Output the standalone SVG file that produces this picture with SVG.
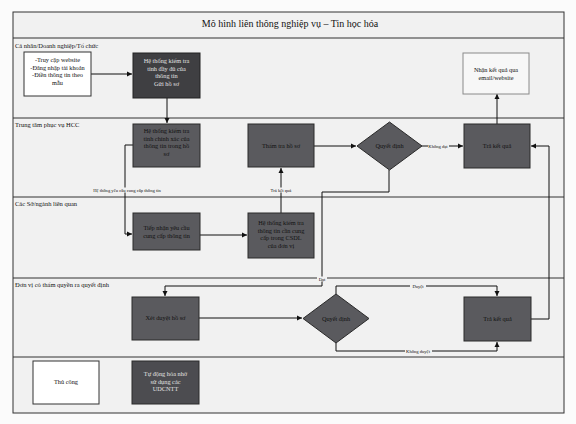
<svg xmlns="http://www.w3.org/2000/svg" width="576" height="424" viewBox="0 0 576 424">
<defs>
<marker id="ah" markerWidth="6" markerHeight="6" refX="5" refY="3" orient="auto" markerUnits="userSpaceOnUse">
<path d="M0,0.5 L5,3 L0,5.5 Z" fill="#111"/>
</marker>
<style>
.lane{fill:#f1f1f1;stroke:#333;stroke-width:1}
.lt{font-family:"Liberation Serif",serif;font-size:6.5px;fill:#111}
.title{font-family:"Liberation Serif",serif;font-size:10px;fill:#111}
.bx{font-family:"Liberation Serif",serif;font-size:6.3px;fill:#111;text-anchor:middle}
.bxl{font-family:"Liberation Serif",serif;font-size:6.3px;fill:#e2e2e2;text-anchor:middle}
.dark{fill:#5a5a5e;stroke:#2a2a2a;stroke-width:1}
.darker{fill:#3f3f42;stroke:#222;stroke-width:1}
.white{fill:#fff;stroke:#333;stroke-width:1}
.light{fill:#f7f7f7;stroke:#8a8a8a;stroke-width:1}
.cn{fill:none;stroke:#111;stroke-width:1}
.lbl{font-family:"Liberation Serif",serif;font-size:4.6px;fill:#111;text-anchor:middle}
.lblbg{fill:#f1f1f1}
</style>
</defs>
<rect x="0" y="0" width="576" height="424" fill="#fbfbfb"/>
<g id="frame">
<rect class="lane" x="13" y="12" width="551" height="401"/>
<line x1="13" y1="38" x2="564" y2="38" stroke="#333" stroke-width="1.2"/>
<line x1="13" y1="118" x2="564" y2="118" stroke="#333"/>
<line x1="13" y1="197" x2="564" y2="197" stroke="#333"/>
<line x1="13" y1="278" x2="564" y2="278" stroke="#333"/>
<line x1="13" y1="357" x2="564" y2="357" stroke="#333"/>
<text class="title" x="290" y="27" text-anchor="middle">Mô hình liên thông nghiệp vụ – Tin học hóa</text>
<text class="lt" x="15" y="48">Cá nhân/Doanh nghiệp/Tổ chức</text>
<text class="lt" x="15" y="127">Trung tâm phục vụ HCC</text>
<text class="lt" x="15" y="206">Các Sở/ngành liên quan</text>
<text class="lt" x="15" y="287">Đơn vị có thẩm quyền ra quyết định</text>
</g>
<g id="connectors">
<path class="cn" d="M91,74 H132" marker-end="url(#ah)"/>
<path class="cn" d="M167,98 V123" marker-end="url(#ah)"/>
<path class="cn" d="M133,145 H125 V234 H132" marker-end="url(#ah)"/>
<path class="cn" d="M200,235 H247" marker-end="url(#ah)"/>
<path class="cn" d="M281,213 V168" marker-end="url(#ah)"/>
<path class="cn" d="M314,146 H356" marker-end="url(#ah)"/>
<path class="cn" d="M422,146 H463" marker-end="url(#ah)"/>
<path class="cn" d="M497,124 V94" marker-end="url(#ah)"/>
<path class="cn" d="M389,170 V192 H322 V286 H165 V296" marker-end="url(#ah)"/>
<path class="cn" d="M199,318 H302" marker-end="url(#ah)"/>
<path class="cn" d="M336,294 V286 H497 V296" marker-end="url(#ah)"/>
<path class="cn" d="M336,343 V351 H497 V342" marker-end="url(#ah)"/>
<path class="cn" d="M531,319 H549 V146 H531" marker-end="url(#ah)"/>
<rect class="lblbg" x="82" y="187.5" width="90" height="5"/>
<text class="lbl" x="127" y="191.5">Hệ thống yêu cầu cung cấp thông tin</text>
<rect class="lblbg" x="268" y="187.5" width="26" height="5"/>
<text class="lbl" x="281" y="191.5">Trả kết quả</text>
<rect class="lblbg" x="428" y="143.5" width="21" height="5"/>
<text class="lbl" x="438" y="147.5">Không đạt</text>
<rect class="lblbg" x="317" y="276.5" width="10" height="5"/>
<text class="lbl" x="322" y="280.5">Đạt</text>
<rect class="lblbg" x="410" y="283.5" width="16" height="5"/>
<text class="lbl" x="418" y="287.5">Duyệt</text>
<rect class="lblbg" x="405" y="348.5" width="27" height="5"/>
<text class="lbl" x="418" y="352.5">Không duyệt</text>
</g>
<g id="n-input">
<rect class="white" x="24" y="52" width="67" height="44"/>
<text class="bx" x="57.5" y="62">-Truy cập website</text>
<text class="bx" x="57.5" y="69.5">-Đăng nhập tài khoản</text>
<text class="bx" x="57.5" y="77">-Điền thông tin theo</text>
<text class="bx" x="57.5" y="84.5">mẫu</text>
</g>
<g id="n-check1">
<rect class="darker" x="133" y="53" width="67" height="45"/>
<text class="bxl" x="166.5" y="63">Hệ thống kiểm tra</text>
<text class="bxl" x="166.5" y="70.5">tính đầy đủ của</text>
<text class="bxl" x="166.5" y="78">thông tin</text>
<text class="bxl" x="166.5" y="85.5">Gửi hồ sơ</text>
</g>
<g id="n-receive">
<rect class="light" x="463" y="53" width="66" height="41"/>
<text class="bx" x="496" y="72">Nhận kết quả qua</text>
<text class="bx" x="496" y="80">email/website</text>
</g>
<g id="n-check2">
<rect class="dark" x="133" y="124" width="67" height="43"/>
<text class="bx" x="166.5" y="133">Hệ thống kiểm tra</text>
<text class="bx" x="166.5" y="140.5">tính chính xác của</text>
<text class="bx" x="166.5" y="148">thông tin trong hồ</text>
<text class="bx" x="166.5" y="155.5">sơ</text>
</g>
<g id="n-review">
<rect class="dark" x="248" y="124" width="66" height="43"/>
<text class="bx" x="281" y="148">Thẩm tra hồ sơ</text>
</g>
<g id="n-decide1">
<polygon class="dark" points="389.5,122 422,146 389.5,170 357,146"/>
<text class="bx" x="389.5" y="148">Quyết định</text>
</g>
<g id="n-result1">
<rect class="dark" x="464" y="124" width="66" height="44"/>
<text class="bx" x="497" y="148">Trả kết quả</text>
</g>
<g id="n-request">
<rect class="dark" x="133" y="213" width="67" height="37"/>
<text class="bx" x="166.5" y="230">Tiếp nhận yêu cầu</text>
<text class="bx" x="166.5" y="237.5">cung cấp thông tin</text>
</g>
<g id="n-check3">
<rect class="dark" x="248" y="213" width="66" height="45"/>
<text class="bx" x="281" y="225">Hệ thống kiểm tra</text>
<text class="bx" x="281" y="232.5">thông tin cần cung</text>
<text class="bx" x="281" y="240">cấp trong CSDL</text>
<text class="bx" x="281" y="247.5">của đơn vị</text>
</g>
<g id="n-approve">
<rect class="dark" x="132" y="297" width="67" height="43"/>
<text class="bx" x="165.5" y="320">Xét duyệt hồ sơ</text>
</g>
<g id="n-decide2">
<polygon class="dark" points="336,294 369,318.5 336,343 303,318.5"/>
<text class="bx" x="336" y="320.5">Quyết định</text>
</g>
<g id="n-result2">
<rect class="dark" x="464" y="297" width="67" height="44"/>
<text class="bx" x="497.5" y="321">Trả kết quả</text>
</g>
<g id="legend-manual">
<rect class="white" x="33" y="361" width="66" height="43"/>
<text class="bx" x="66" y="384">Thủ công</text>
</g>
<g id="legend-auto">
<rect class="dark" x="132" y="361" width="67" height="43" style="fill:#4c4c50"/>
<text class="bxl" x="165.5" y="376">Tự động hóa nhờ</text>
<text class="bxl" x="165.5" y="383.5">sử dụng các</text>
<text class="bxl" x="165.5" y="391">UDCNTT</text>
</g>
</svg>
